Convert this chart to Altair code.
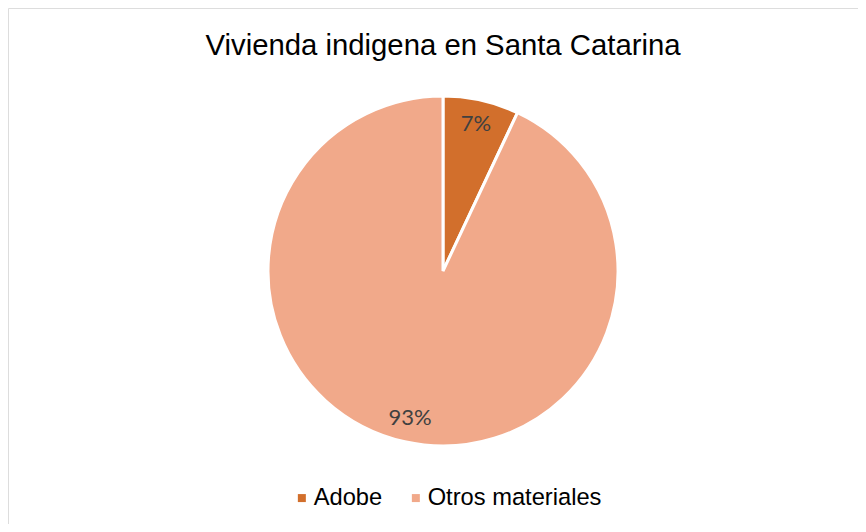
import altair as alt
import pandas as pd

categories = ["Adobe", "Otros materiales"]
values = [7, 93]
labels = ["7%", "93%"]
colors = ["#D26F2C", "#F1A98A"]

df = pd.DataFrame({"Material": categories, "Valor": values, "Etiqueta": labels,
                   "orden": [0, 1]})

cx, cy = 435, 263

base = alt.Chart(df).encode(
    theta=alt.Theta("Valor:Q", stack=True),
    order=alt.Order("orden:Q"),
    x=alt.value(cx),
    y=alt.value(cy),
)

pie = base.mark_arc(outerRadius=175, stroke="white", strokeWidth=3).encode(
    color=alt.Color(
        "Material:N",
        scale=alt.Scale(domain=categories, range=colors),
        sort=categories,
        legend=alt.Legend(
            title=None,
            orient="none",
            legendX=282,
            legendY=478,
            direction="horizontal",
            padding=0,
            symbolType="square",
            symbolSize=64,
            symbolStrokeWidth=0,
            labelFont="Liberation Sans",
            labelFontSize=23.7,
            labelColor="#000000",
            labelOffset=0,
            columnPadding=21,
            labelLimit=400,
        ),
    )
)

text = base.mark_text(radius=151, font="Lato", fontSize=22, color="#404040").encode(
    text="Etiqueta:N"
)

chart = (
    alt.layer(pie, text)
    .properties(
        width=850,
        height=516,
        autosize=alt.AutoSizeParams(type="none"),
        padding=0,
        title=alt.TitleParams(
            "Vivienda indigena en Santa Catarina",
            orient="top",
            anchor="middle",
            offset=-53,
            dx=10,
            font="Liberation Sans",
            fontSize=29.3,
            fontWeight="normal",
            color="#000000",
        ),
    )
    .configure_view(stroke="#D9D9D9", strokeWidth=1)
    .configure(background="white")
)

chart.save("out.html", embed_options={"renderer": "svg", "actions": False})
